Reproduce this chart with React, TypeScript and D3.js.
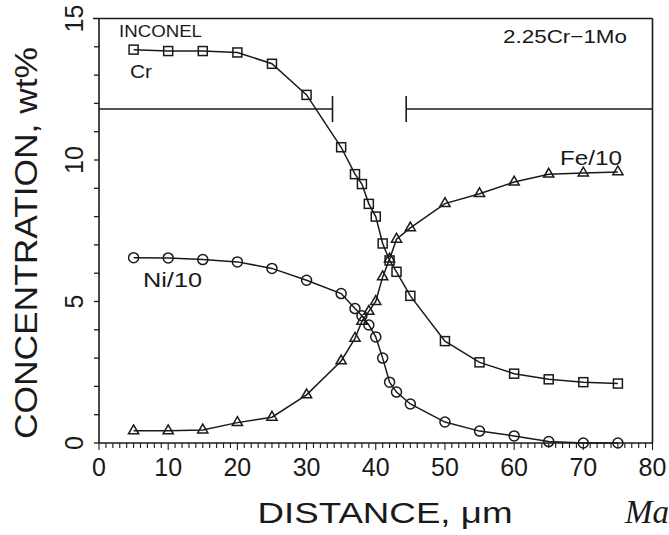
import React, { useEffect, useRef } from "react";
import * as d3 from "d3";

// distance (um) at which each element was measured
const crDist = [5, 10, 15, 20, 25, 30, 35, 37, 38, 39, 40, 41, 42, 43, 45, 50, 55, 60, 65, 70, 75];
const crConc = [13.9, 13.85, 13.85, 13.8, 13.4, 12.3, 10.45, 9.5, 9.15, 8.45, 8.0, 7.05, 6.45, 6.05, 5.2, 3.6, 2.85, 2.45, 2.25, 2.15, 2.1];
const niDist = [5, 10, 15, 20, 25, 30, 35, 37, 38, 39, 40, 41, 42, 43, 45, 50, 55, 60, 65, 70, 75];
const niConc = [6.55, 6.54, 6.48, 6.4, 6.17, 5.75, 5.28, 4.75, 4.5, 4.17, 3.75, 3.0, 2.15, 1.8, 1.38, 0.74, 0.42, 0.25, 0.05, 0, 0];
const feDist = [5, 10, 15, 20, 25, 30, 35, 37, 38, 39, 40, 41, 42, 43, 45, 50, 55, 60, 65, 70, 75];
const feConc = [0.43, 0.43, 0.46, 0.72, 0.91, 1.7, 2.9, 3.7, 4.3, 4.65, 5.0, 5.87, 6.5, 7.2, 7.6, 8.46, 8.81, 9.22, 9.5, 9.54, 9.58];

const xTicks = [0, 10, 20, 30, 40, 50, 60, 70, 80];
const yTicks = [0, 5, 10, 15];
// interface bracket: level and the two inner ends
const bracketLevel = 11.8;
const bracketEnds = [33.75, 44.4];

const INK = "#1a1a1a";

function App() {
  const svgRef = useRef<SVGSVGElement>(null);

  useEffect(() => {
    const svg = d3.select(svgRef.current);
    svg.selectAll("*").remove();

    const x = d3.scaleLinear().domain([0, 80]).range([99, 652.5]);
    const y = d3.scaleLinear().domain([0, 15]).range([443, 18.5]);
    const font = "'Liberation Sans', Arial, sans-serif";

    const g = svg.append("g");

    // frame
    g.append("line").attr("x1", x(0)).attr("x2", x(0)).attr("y1", y(15)).attr("y2", y(0))
      .attr("stroke", INK).attr("stroke-width", 1.6);
    g.append("line").attr("x1", x(0)).attr("x2", x(80)).attr("y1", y(0)).attr("y2", y(0))
      .attr("stroke", INK).attr("stroke-width", 1.6);
    g.append("line").attr("x1", x(0) - 6).attr("x2", x(80)).attr("y1", y(15)).attr("y2", y(15))
      .attr("stroke", INK).attr("stroke-width", 1.6);
    g.append("line").attr("x1", x(80)).attr("x2", x(80)).attr("y1", y(15)).attr("y2", y(0))
      .attr("stroke", INK).attr("stroke-width", 1.6);

    // minor ticks
    g.selectAll(".xt").data(d3.range(0, 81)).enter().append("line")
      .attr("x1", d => x(d)).attr("x2", d => x(d))
      .attr("y1", y(0)).attr("y2", d => y(0) + (d % 10 === 0 ? 7 : 5))
      .attr("stroke", INK).attr("stroke-width", 1.1);
    g.selectAll(".yt").data(d3.range(0, 15)).enter().append("line")
      .attr("x1", x(0) - 5).attr("x2", x(0))
      .attr("y1", d => y(d)).attr("y2", d => y(d))
      .attr("stroke", INK).attr("stroke-width", 1.3);

    // tick labels
    g.selectAll(".xl").data(xTicks).enter().append("text")
      .attr("x", d => x(d)).attr("y", 476)
      .attr("text-anchor", "middle")
      .style("font-family", font).style("font-size", "25px").attr("fill", INK)
      .text(d => d);
    g.selectAll(".yl").data(yTicks).enter().append("text")
      .attr("transform", d => `translate(83,${y(d)}) rotate(-90)`)
      .attr("text-anchor", "middle")
      .style("font-family", font).style("font-size", "25px").attr("fill", INK)
      .text(d => d);

    // axis titles
    g.append("text").attr("x", 385).attr("y", 523).attr("text-anchor", "middle")
      .attr("textLength", 255).attr("lengthAdjust", "spacingAndGlyphs")
      .style("font-family", font).style("font-size", "29px").attr("fill", INK)
      .text("DISTANCE,  \u03bcm");
    g.append("text").attr("transform", "translate(37,243) rotate(-90)")
      .attr("text-anchor", "middle")
      .attr("textLength", 392).attr("lengthAdjust", "spacingAndGlyphs")
      .style("font-family", font).style("font-size", "31px").attr("fill", INK)
      .text("CONCENTRATION,  wt%");

    // interface bracket
    const [bl, br] = bracketEnds;
    g.append("line").attr("x1", x(0)).attr("x2", x(bl)).attr("y1", y(bracketLevel)).attr("y2", y(bracketLevel))
      .attr("stroke", INK).attr("stroke-width", 1.4);
    g.append("line").attr("x1", x(br)).attr("x2", x(80)).attr("y1", y(bracketLevel)).attr("y2", y(bracketLevel))
      .attr("stroke", INK).attr("stroke-width", 1.4);
    bracketEnds.forEach(e => {
      g.append("line").attr("x1", x(e)).attr("x2", x(e))
        .attr("y1", y(bracketLevel) - 13).attr("y2", y(bracketLevel) + 13)
        .attr("stroke", INK).attr("stroke-width", 1.6);
    });

    const line = d3.line<[number, number]>().x(d => x(d[0])).y(d => y(d[1]));
    const series = [
      { xs: crDist, ys: crConc, shape: "square" },
      { xs: niDist, ys: niConc, shape: "circle" },
      { xs: feDist, ys: feConc, shape: "triangle" },
    ];
    series.forEach(s => {
      const pts = s.xs.map((d, i) => [d, s.ys[i]] as [number, number]);
      g.append("path").attr("d", line(pts)).attr("fill", "none")
        .attr("stroke", INK).attr("stroke-width", 1.5);
      const m = g.selectAll(".m-" + s.shape).data(pts).enter();
      if (s.shape === "square") {
        m.append("rect").attr("x", d => x(d[0]) - 4.5).attr("y", d => y(d[1]) - 4.5)
          .attr("width", 9).attr("height", 9)
          .attr("fill", "none").attr("stroke", INK).attr("stroke-width", 1.5);
      } else if (s.shape === "circle") {
        m.append("circle").attr("cx", d => x(d[0])).attr("cy", d => y(d[1])).attr("r", 5)
          .attr("fill", "none").attr("stroke", INK).attr("stroke-width", 1.5);
      } else {
        const tri = d3.symbol().type(d3.symbolTriangle).size(45);
        m.append("path").attr("d", tri()).attr("transform", d => `translate(${x(d[0])},${y(d[1])})`)
          .attr("fill", "none").attr("stroke", INK).attr("stroke-width", 1.5);
      }
    });

    // annotations
    const note = (tx: number, ty: number, t: string, size: number, len: number) =>
      g.append("text").attr("x", tx).attr("y", ty)
        .attr("textLength", len).attr("lengthAdjust", "spacingAndGlyphs")
        .style("font-family", font).style("font-size", size + "px").attr("fill", INK).text(t);
    note(119, 37, "INCONEL", 17, 83);
    note(130, 78, "Cr", 18, 22);
    note(503, 43, "2.25Cr\u22121Mo", 19, 124);
    note(560, 165, "Fe/10", 20, 62);
    note(143, 287, "Ni/10", 20, 59);

    svg.append("text").attr("x", 625).attr("y", 523)
      .style("font-family", "'Liberation Serif', serif").style("font-style", "italic")
      .style("font-size", "33px").attr("fill", INK).text("Ma");
  }, []);

  return (
    <svg ref={svgRef} width={669} height={535}
      style={{ position: "absolute", left: 0, top: 0, background: "#fff" }} />
  );
}

export default App;
